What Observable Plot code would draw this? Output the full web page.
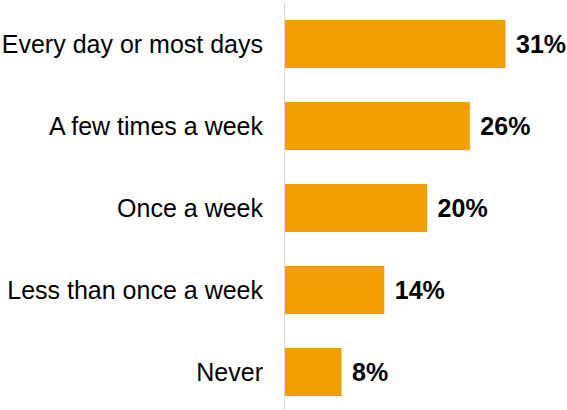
<!DOCTYPE html>
<html>
<head>
<meta charset="utf-8">
<script src="https://cdn.jsdelivr.net/npm/d3@7"></script>
<script src="https://cdn.jsdelivr.net/npm/@observablehq/plot@0.6"></script>
<style>
  html, body { margin: 0; padding: 0; background: #fff; }
  #chart svg { display: block; }
</style>
</head>
<body>
<div id="chart"></div>
<script>
const categories = ["Every day or most days", "A few times a week", "Once a week", "Less than once a week", "Never"];
const values = [31, 26, 20, 14, 8];
const valueLabels = ["31%", "26%", "20%", "14%", "8%"];

const data = categories.map((c, i) => ({category: c, value: values[i], label: valueLabels[i]}));

const chart = Plot.plot({
  width: 567,
  height: 410,
  marginTop: 3,
  marginBottom: 0,
  marginLeft: 0,
  marginRight: 0,
  style: {fontFamily: "Arial, 'Liberation Sans', sans-serif", background: "#fff"},
  x: {domain: [0, 31], range: [284.5, 505.5], axis: null},
  y: {domain: categories, range: [19, 397.3], paddingInner: 0.418, paddingOuter: 0, axis: null},
  marks: [
    Plot.barX(data, {x: "value", y: "category", fill: "#F29E00"}),
    Plot.ruleX([0], {stroke: "#d9d9d9", strokeWidth: 1, dx: -0.5}),
    Plot.text(data, {x: 0, y: "category", text: "category", textAnchor: "end", dx: -22, fontSize: 25, fill: "#000"}),
    Plot.text(data, {x: "value", y: "category", text: "label", textAnchor: "start", dx: 10, fontSize: 25, fontWeight: "bold", fill: "#000"})
  ]
});
document.getElementById("chart").appendChild(chart);
</script>
</body>
</html>
